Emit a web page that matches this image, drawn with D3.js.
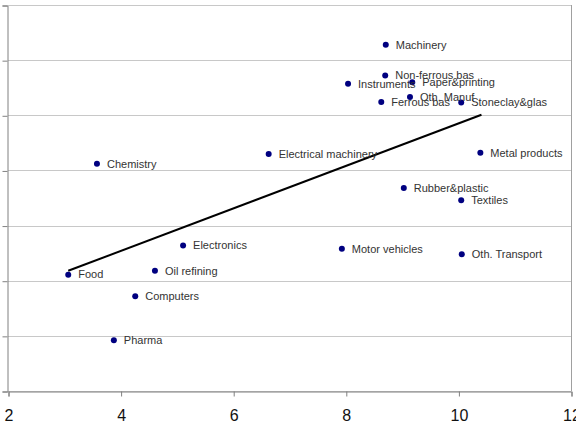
<!DOCTYPE html>
<html>
<head>
<meta charset="utf-8">
<script src="https://cdn.jsdelivr.net/npm/d3@7"></script>
<style>
  body { margin: 0; background: #fff; }
  svg { display: block; font-family: "Liberation Sans", Arial, sans-serif; }
</style>
</head>
<body>
<svg id="chart" width="576" height="422"></svg>
<script>
// sector names and their (x, y) positions
var sectors = ['Machinery', 'Non-ferrous bas', 'Paper&printing', 'Instruments', 'Oth. Manuf',
  'Ferrous bas', 'Stoneclay&glas', 'Electrical machinery', 'Metal products', 'Chemistry',
  'Rubber&plastic', 'Textiles', 'Electronics', 'Motor vehicles', 'Oth. Transport',
  'Food', 'Oil refining', 'Computers', 'Pharma'];
var xValues = [8.71, 8.70, 9.18, 8.04, 9.14, 8.63, 10.05, 6.63, 10.39, 3.58,
  9.03, 10.05, 5.11, 7.93, 10.06, 3.07, 4.61, 4.26, 3.88];
var yValues = [6.28, 5.72, 5.60, 5.57, 5.33, 5.24, 5.23, 4.30, 4.32, 4.12,
  3.68, 3.46, 2.64, 2.58, 2.48, 2.11, 2.18, 1.72, 0.92];

// fitted trend line end points
var trendX = [3.07, 10.41];
var trendY = [2.18, 5.01];

var xTicks = [2, 4, 6, 8, 10, 12];
var yTicks = [0, 1, 2, 3, 4, 5, 6, 7];

(function() {
  var svg = d3.select('#chart');
  var m = { left: 8, right: 571, top: 5, bottom: 391 };

  var x = d3.scaleLinear().domain([2, 12]).range([m.left, m.right]);
  var y = d3.scaleLinear().domain([0, 7]).range([m.bottom, m.top]);

  // grid
  svg.append('g').selectAll('line').data(yTicks).join('line')
    .attr('x1', m.left).attr('x2', m.right)
    .attr('y1', function(d) { return Math.round(y(d)) + 0.5; })
    .attr('y2', function(d) { return Math.round(y(d)) + 0.5; })
    .attr('stroke', '#c8c8c8').attr('stroke-width', 1);

  // right border
  svg.append('line')
    .attr('x1', m.right + 0.5).attr('x2', m.right + 0.5).attr('y1', m.top).attr('y2', m.bottom)
    .attr('stroke', '#a0a0a0');

  // left axis, ticks only
  svg.append('g')
    .attr('transform', 'translate(' + (m.left - 0.5) + ',0.5)')
    .call(d3.axisLeft(y).tickValues(yTicks).tickSize(5).tickFormat(''))
    .call(function(g) {
      g.selectAll('line, path').attr('stroke', '#808080');
    });

  // bottom axis
  svg.append('g')
    .attr('transform', 'translate(0.5,' + (m.bottom + 0.5) + ')')
    .call(d3.axisBottom(x).tickValues(xTicks).tickSize(5).tickSizeOuter(5).tickPadding(13))
    .call(function(g) {
      g.selectAll('line, path').attr('stroke', '#808080');
      g.selectAll('text').attr('font-size', 16).attr('fill', '#111')
        .attr('font-family', '"Liberation Sans", Arial, sans-serif');
    });

  // trend line
  svg.append('line')
    .attr('x1', x(trendX[0])).attr('y1', y(trendY[0]))
    .attr('x2', x(trendX[1])).attr('y2', y(trendY[1]))
    .attr('stroke', '#000').attr('stroke-width', 2);

  // points + labels
  var pts = sectors.map(function(s, i) { return { name: s, x: xValues[i], y: yValues[i] }; });

  var g = svg.append('g');
  g.selectAll('circle').data(pts).join('circle')
    .attr('cx', function(d) { return x(d.x); })
    .attr('cy', function(d) { return y(d.y); })
    .attr('r', 3)
    .attr('fill', '#000080');

  g.selectAll('text').data(pts).join('text')
    .attr('x', function(d) { return x(d.x) + 10; })
    .attr('y', function(d) { return y(d.y); })
    .attr('dy', '0.35em')
    .attr('font-size', 11)
    .attr('fill', '#333')
    .text(function(d) { return d.name; });
}());
</script>
</body>
</html>
